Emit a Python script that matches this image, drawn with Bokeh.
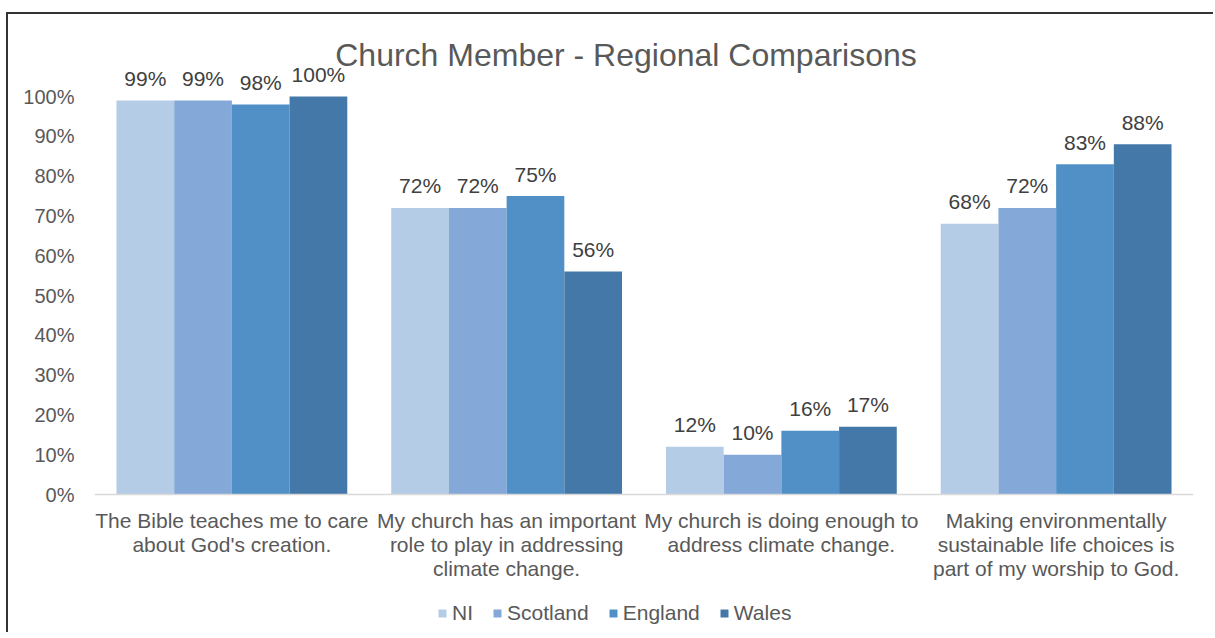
from bokeh.plotting import figure
from bokeh.models import (ColumnDataSource, FactorRange, LabelSet, Label, Legend, LegendItem,
                          FixedTicker, NumeralTickFormatter, Span)
from bokeh.transform import dodge
from bokeh.embed import file_html
from bokeh.resources import INLINE
from bokeh.core.properties import value

categories = [
    "The Bible teaches me to care\nabout God's creation.",
    "My church has an important\nrole to play in addressing\nclimate change.",
    "My church is doing enough to\naddress climate change.",
    "Making environmentally\nsustainable life choices is\npart of my worship to God.",
]
series = ["NI", "Scotland", "England", "Wales"]
ni = [0.99, 0.72, 0.12, 0.68]
scotland = [0.99, 0.72, 0.10, 0.72]
england = [0.98, 0.75, 0.16, 0.83]
wales = [1.00, 0.56, 0.17, 0.88]
colors = ["#b4cce5", "#84a8d7", "#5190c6", "#4478a8"]
yticks = [0, 0.1, 0.2, 0.3, 0.4, 0.5, 0.6, 0.7, 0.8, 0.9, 1.0]
title_text = "Church Member - Regional Comparisons"

FONT = "Liberation Sans"
GRAY = "#595959"

W, H = 1207, 620
PX = 1 / 398.0  # data units per pixel
p = figure(x_range=FactorRange(*categories, range_padding=0),
           y_range=(-138 * PX, 465 * PX),
           width=W, height=H, output_backend="svg", toolbar_location=None,
           min_border_left=86, min_border_right=22, min_border_top=15, min_border_bottom=2)
p.styles = {"border-top": "2px solid #333333", "border-left": "2px solid #333333",
            "margin-top": "12px", "margin-left": "6px"}
p.outline_line_color = None
p.xgrid.grid_line_color = None
p.ygrid.grid_line_color = None

data = dict(cat=categories, NI=ni, Scotland=scotland, England=england, Wales=wales)
for s, v in zip(series, [ni, scotland, england, wales]):
    data[s + "_lbl"] = ["{:.0f}%".format(x * 100) for x in v]
src = ColumnDataSource(data)

offsets = [-0.315, -0.105, 0.105, 0.315]
renderers = []
for s, off, c in zip(series, offsets, colors):
    r = p.vbar(x=dodge("cat", off, range=p.x_range), top=s, width=0.21, source=src,
               fill_color=c, line_color=None)
    renderers.append(r)
    lbl = LabelSet(x=dodge("cat", off, range=p.x_range), y=s, text=s + "_lbl", source=src,
                   text_align="center", text_baseline="middle", y_offset=22,
                   text_font=value(FONT), text_font_size="21px", text_color="#404040")
    p.add_layout(lbl)

# category labels under the axis line, one centred line at a time
line_x, line_y, line_t = [], [], []
for c in categories:
    for i, t in enumerate(c.split("\n")):
        line_x.append(c)
        line_y.append((-26 - 24 * i) * PX)
        line_t.append(t)
cat_src = ColumnDataSource(dict(x=line_x, y=line_y, t=line_t))
cat_lbl = LabelSet(x="x", y="y", text="t", source=cat_src, text_align="center",
                   text_baseline="middle", text_font=value(FONT), text_font_size="21px",
                   text_color=GRAY)
p.add_layout(cat_lbl)

p.add_layout(Span(location=0, dimension="width", line_color="#d9d9d9", line_width=1.5))

# axes
p.xaxis.visible = False
p.yaxis.ticker = FixedTicker(ticks=yticks)
p.yaxis.formatter = NumeralTickFormatter(format="0%")
p.yaxis.axis_line_color = None
p.yaxis.major_tick_line_color = None
p.yaxis.minor_tick_line_color = None
p.yaxis.major_tick_out = 0
p.yaxis.major_label_standoff = 20
p.yaxis.major_label_text_font = FONT
p.yaxis.major_label_text_font_size = "20px"
p.yaxis.major_label_text_color = GRAY

title = Label(x=2.0 - 18 / 274.75, y=440 * PX, text=title_text, text_align="center",
              text_baseline="middle", text_font=FONT, text_font_size="32px", text_color=GRAY)
p.add_layout(title)

legend = Legend(items=[LegendItem(label=s, renderers=[r]) for s, r in zip(series, renderers)],
                orientation="horizontal", location=(343, 7),
                glyph_width=10, glyph_height=10, label_standoff=5, spacing=19,
                label_text_font=FONT, label_text_font_size="21px", label_text_color=GRAY,
                border_line_color=None, background_fill_alpha=0, margin=0, padding=4)
p.add_layout(legend)

open("out.html", "w").write(file_html(p, INLINE))
